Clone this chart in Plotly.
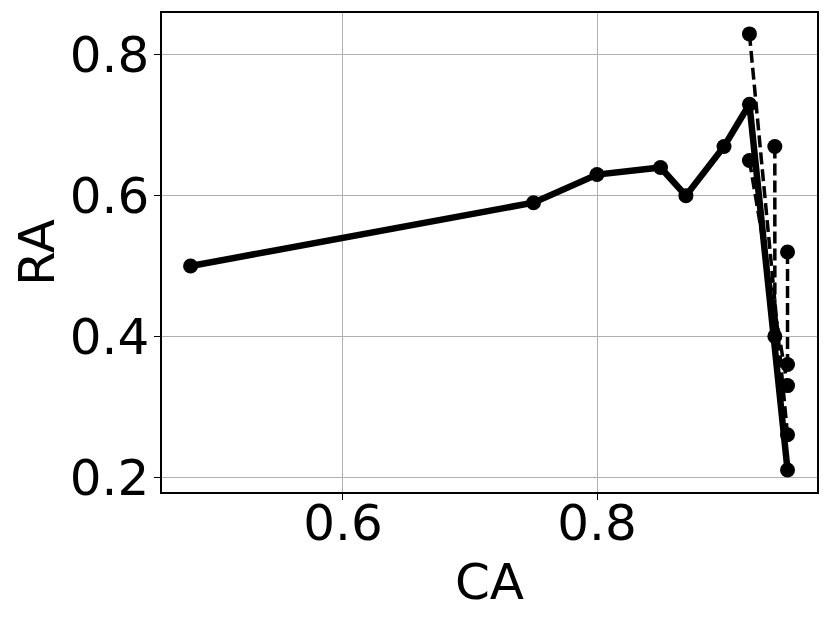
import plotly.graph_objects as go

# main (solid) curve
ca_main = [0.48, 0.75, 0.80, 0.85, 0.87, 0.90, 0.92, 0.95]
ra_main = [0.50, 0.59, 0.63, 0.64, 0.60, 0.67, 0.73, 0.21]

# dashed curves
ca_d1 = [0.92, 0.95]
ra_d1 = [0.83, 0.26]
ca_d2 = [0.92, 0.95]
ra_d2 = [0.65, 0.33]
ca_d3 = [0.94, 0.94]
ra_d3 = [0.67, 0.40]
ca_d4 = [0.95, 0.95]
ra_d4 = [0.52, 0.36]

x_ticks = [0.6, 0.8]
y_ticks = [0.2, 0.4, 0.6, 0.8]

FONT = "DejaVu Sans"
fig = go.Figure()

for cx, ry in [(ca_d1, ra_d1), (ca_d2, ra_d2), (ca_d3, ra_d3), (ca_d4, ra_d4)]:
    fig.add_trace(go.Scatter(
        x=cx, y=ry, mode="lines+markers",
        line=dict(color="black", width=3.5, dash="12px,5px"),
        marker=dict(color="black", size=15),
        showlegend=False))

fig.add_trace(go.Scatter(
    x=ca_main, y=ra_main, mode="lines+markers",
    line=dict(color="black", width=6.5),
    marker=dict(color="black", size=15),
    showlegend=False))

axis_common = dict(
    showline=True, mirror=True, linecolor="black", linewidth=1.5,
    ticks="outside", ticklen=6, tickwidth=1.2, tickcolor="black",
    showgrid=True, gridcolor="#b0b0b0", gridwidth=1,
    zeroline=False, tickfont=dict(family=FONT, size=50, color="black"),
)

fig.update_xaxes(range=[0.4575, 0.9732], tickvals=x_ticks,
                 ticktext=[f"{v:.1f}" for v in x_ticks],
                 ticklabelstandoff=-20,
                 title=dict(text="CA", font=dict(family=FONT, size=50, color="black"), standoff=13),
                 **axis_common)
fig.update_yaxes(range=[0.1787, 0.8597], tickvals=y_ticks,
                 ticktext=[f"{v:.1f}" for v in y_ticks],
                 ticklabelstandoff=-5,
                 title=dict(text="RA", font=dict(family=FONT, size=50, color="black"), standoff=16),
                 **axis_common)

# page body has an 8px default margin: shift plot margins to compensate
fig.update_layout(
    width=830, height=623,
    margin=dict(l=154, r=21, t=5, b=139, autoexpand=False),
    plot_bgcolor="white", paper_bgcolor="white",
    font=dict(family=FONT, color="black"),
)

fig.write_html("out.html")
